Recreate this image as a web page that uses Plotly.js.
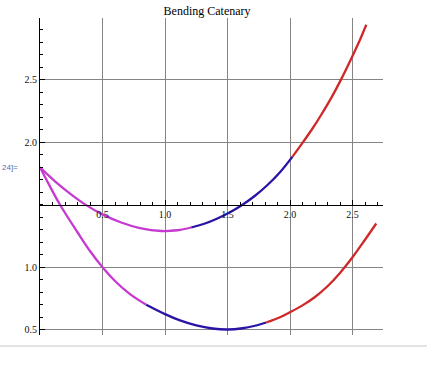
<!DOCTYPE html>
<html>
<head>
<meta charset="utf-8">
<script src="https://cdn.plot.ly/plotly-3.0.1.min.js"></script>
<style>html,body{margin:0;padding:0;background:#fff;}#chart{width:427px;height:373px;}</style>
</head>
<body>
<div id="chart"></div>
<script>
// Upper catenary, split by colour
const upperMagentaX = [0, 0.06, 0.12, 0.23, 0.36, 0.5, 0.65, 0.8, 0.97, 1.1, 1.21];
const upperMagentaY = [1.8, 1.742, 1.687, 1.597, 1.503, 1.423, 1.358, 1.313, 1.29, 1.296, 1.318];
const upperBlueX = [1.21, 1.32, 1.41, 1.52, 1.62, 1.72, 1.82, 1.92, 2.02];
const upperBlueY = [1.318, 1.35, 1.386, 1.44, 1.5, 1.572, 1.658, 1.76, 1.885];
const upperRedX = [2.02, 2.1, 2.18, 2.25, 2.33, 2.41, 2.5, 2.56, 2.61];
const upperRedY = [1.885, 1.995, 2.11, 2.22, 2.355, 2.505, 2.69, 2.82, 2.94];

// Lower catenary
const lowerMagentaX = [0, 0.07, 0.16, 0.3, 0.4, 0.5, 0.6, 0.72, 0.85];
const lowerMagentaY = [1.8, 1.665, 1.5, 1.28, 1.13, 1.0, 0.89, 0.785, 0.70];
const lowerBlueX = [0.85, 1.0, 1.12, 1.25, 1.38, 1.5, 1.62, 1.72, 1.81];
const lowerBlueY = [0.70, 0.625, 0.575, 0.535, 0.51, 0.502, 0.512, 0.532, 0.558];
const lowerRedX = [1.81, 1.92, 2.0, 2.1, 2.2, 2.3, 2.4, 2.5, 2.6, 2.69];
const lowerRedY = [0.558, 0.6, 0.64, 0.695, 0.762, 0.848, 0.955, 1.08, 1.22, 1.35];

// Tick labels
const xTickVals = [0.5, 1.0, 1.5, 2.0, 2.5];
const xTickText = ['0.5', '1.0', '1.5', '2.0', '2.5'];
const yTickVals = [0.5, 1.0, 2.0, 2.5];
const yTickText = ['0.5', '1.0', '2.0', '2.5'];

const MAGENTA = '#c63ad0', BLUE = '#2a14a6', RED = '#d02828';

function seg(x, y, color) {
  return {x: x, y: y, type: 'scatter', mode: 'lines',
    line: {color: color, width: 2.3, shape: 'spline', smoothing: 1},
    hoverinfo: 'skip', showlegend: false};
}

const data = [
  seg(upperMagentaX, upperMagentaY, MAGENTA),
  seg(upperBlueX, upperBlueY, BLUE),
  seg(upperRedX, upperRedY, RED),
  seg(lowerMagentaX, lowerMagentaY, MAGENTA),
  seg(lowerBlueX, lowerBlueY, BLUE),
  seg(lowerRedX, lowerRedY, RED)
];

const yMin = 0.458, yMax = 2.994;
const tickFont = {family: 'Liberation Serif, Times New Roman, serif', size: 10, color: '#111'};

const layout = {
  width: 427, height: 373,
  margin: {l: 40, r: 44, t: 18, b: 38, pad: 0},
  paper_bgcolor: '#fff', plot_bgcolor: '#fff',
  title: {text: 'Bending Catenary', font: {family: 'Liberation Serif, Times New Roman, serif', size: 12, color: '#000'},
    x: 0.487, xref: 'paper', xanchor: 'center', y: 0.972, yref: 'container', yanchor: 'middle'},
  xaxis: {
    range: [0, 2.744], anchor: 'free', position: (1.5 - yMin) / (yMax - yMin),
    tickmode: 'array', tickvals: xTickVals, ticktext: xTickText,
    ticks: 'inside', ticklen: 5, tickcolor: '#000', tickwidth: 1,
    showline: true, linecolor: '#000', linewidth: 1, zeroline: false,
    showgrid: true, gridcolor: '#858585', gridwidth: 1,
    tickfont: tickFont, ticklabelstandoff: 0,
    minor: {tickmode: 'linear', tick0: 0, dtick: 0.1, ticks: 'inside', ticklen: 3, tickcolor: '#000', showgrid: false},
    fixedrange: true
  },
  yaxis: {
    range: [yMin, yMax],
    tickmode: 'array', tickvals: yTickVals, ticktext: yTickText,
    ticks: 'inside', ticklen: 5, tickcolor: '#000', tickwidth: 1,
    showline: true, linecolor: '#000', linewidth: 1, zeroline: false,
    showgrid: true, gridcolor: '#858585', gridwidth: 1,
    tickfont: tickFont,
    minor: {tickmode: 'linear', tick0: 0, dtick: 0.1, ticks: 'inside', ticklen: 3, tickcolor: '#000', showgrid: false},
    fixedrange: true
  },
  annotations: [{
    text: '24]=', xref: 'paper', yref: 'paper', x: -40 / 343, y: (335 - 168) / 317,
    xanchor: 'left', yanchor: 'middle', showarrow: false,
    font: {family: 'Liberation Sans, Arial, sans-serif', size: 8, color: '#5a6aa8'}
  }],
  shapes: [{
    type: 'line', xref: 'paper', yref: 'paper',
    x0: -40 / 343, x1: 387 / 343, y0: -11 / 317, y1: -11 / 317,
    line: {color: '#c8c8c8', width: 1}
  }]
};

Plotly.newPlot('chart', data, layout, {displayModeBar: false, staticPlot: true});
</script>
</body>
</html>
